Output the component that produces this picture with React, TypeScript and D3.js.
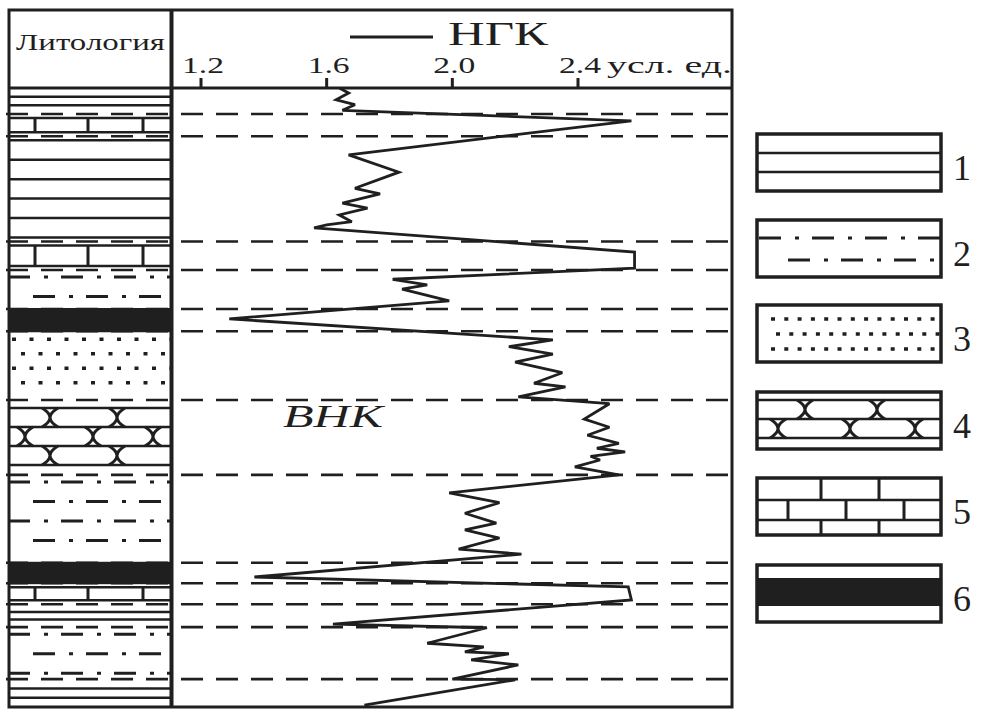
import React from "react";
import * as d3 from "d3";

// ---------- data ----------
const tickValues = [1.2, 1.6, 2.0, 2.4];
const tickLabels = ["1.2", "1.6", "2.0", "2.4"];
const unitLabel = "усл. ед.";
const curveName = "НГК";
const owcLabel = "ВНК";
const lithHeader = "Литология";

// relative depth (0 = top of section, 100 = bottom) and NGK reading (conventional units)
const ngkDepth = [0, 0.8, 1.9, 2.7, 3.6, 5.3, 10.8, 13.6, 16.2, 17.1, 18.6, 19.4, 20.5, 21.6, 22.1, 22.6, 26.5, 29.1, 30.9, 31.8, 32.5, 34.4, 37.3, 40.7, 41.8, 43.0, 44.3, 46.0, 47.7, 48.3, 49.9, 51.0, 53.5, 54.8, 56.1, 57.4, 58.2, 58.8, 59.5, 60.1, 61.2, 62.5, 65.4, 67.0, 68.7, 70.3, 71.4, 72.7, 74.5, 75.3, 79.0, 80.6, 82.7, 86.6, 87.2, 89.7, 90.3, 91.1, 91.4, 92.4, 93.2, 95.5, 95.6, 99.7];
const ngkValue = [1.64, 1.67, 1.63, 1.69, 1.65, 2.57, 1.67, 1.83, 1.69, 1.77, 1.65, 1.73, 1.64, 1.68, 1.60, 1.56, 2.58, 2.58, 1.81, 1.92, 1.84, 1.99, 1.29, 2.32, 2.18, 2.32, 2.20, 2.35, 2.26, 2.36, 2.21, 2.50, 2.42, 2.50, 2.43, 2.53, 2.46, 2.55, 2.44, 2.47, 2.39, 2.53, 1.99, 2.15, 2.04, 2.14, 2.04, 2.15, 2.02, 2.22, 1.37, 2.56, 2.57, 1.62, 2.11, 1.92, 2.10, 2.04, 2.18, 2.06, 2.21, 2.00, 2.20, 1.72];

// layer boundaries (dashed lines)
const boundaryDepth = [4.2, 7.8, 24.8, 29.4, 35.7, 39.3, 50.4, 62.5, 76.7, 80.0, 83.4, 87.1, 95.5];
const lithTop = [0, 4.2, 7.8, 24.8, 29.4, 35.7, 39.3, 50.4, 62.5, 76.7, 80.0, 83.4, 87.1, 95.5];
const lithBottom = [4.2, 7.8, 24.8, 29.4, 35.7, 39.3, 50.4, 62.5, 76.7, 80.0, 83.4, 87.1, 95.5, 100];
// 1 clay, 2 siltstone, 3 sandstone, 4 conglomerate-like, 5 limestone, 6 coal
const lithType = [1, 5, 1, 5, 2, 6, 3, 4, 2, 6, 5, 1, 2, 1];

const legendTypes = [1, 2, 3, 4, 5, 6];
const legendLabels = ["1", "2", "3", "4", "5", "6"];

// ---------- layout ----------
const W = 982;
const H = 709;
const INK = "#1f1f1f";
const FONT = "Liberation Serif, Times New Roman, serif";
const TXT: React.CSSProperties = { fontFamily: FONT };

const frame = { left: 9, top: 10, right: 732, bottom: 707, header: 88, divider: 171.5 };
const col = { x0: 10, x1: 170 };

const xScale = d3.scaleLinear().domain([1.2, 2.4]).range([201, 578]);
const yScale = d3.scaleLinear().domain([0, 100]).range([frame.header, frame.bottom]);

const legendBox = { x0: 757, x1: 941, h: 57 };
const legendTops = [134, 220, 305, 392, 478, 565];

function hline(key: string, xa: number, xb: number, y: number, sw = 2.5, dash?: string) {
  return (
    <line key={key} x1={xa} x2={xb} y1={y} y2={y} stroke={INK} strokeWidth={sw} strokeDasharray={dash} />
  );
}
function vline(key: string, x: number, ya: number, yb: number, sw = 3) {
  return <line key={key} x1={x} x2={x} y1={ya} y2={yb} stroke={INK} strokeWidth={sw} />;
}
function xMark(key: string, cx: number, ya: number, yb: number, w = 8) {
  const ym = (ya + yb) / 2;
  return (
    <path
      key={key}
      d={`M${cx - w},${ya} Q${cx + w},${ym} ${cx - w},${yb} M${cx + w},${ya} Q${cx - w},${ym} ${cx + w},${yb}`}
      fill="none"
      stroke={INK}
      strokeWidth={3}
    />
  );
}

function pattern(type: number, x0: number, x1: number, y0: number, y1: number, legend: boolean, k: string) {
  const els: React.ReactNode[] = [];
  const h = y1 - y0;
  if (type === 1) {
    if (legend || h < 35) {
      els.push(hline(k + "a", x0, x1, y0 + h / 3));
      els.push(hline(k + "b", x0, x1, y0 + (2 * h) / 3));
    } else {
      const a = y0 + 4, b = y1 - 4;
      const n = Math.max(1, Math.round((b - a) / 19));
      for (let i = 0; i <= n; i++) els.push(hline(k + i, x0, x1, a + ((b - a) * i) / n));
    }
  } else if (type === 2) {
    const dash = "22 14 4 13";
    const rows = legend ? [y0 + 18, y0 + 40] : d3.range(y0 + 7, y1 - 3 + 0.01, 19.5);
    rows.forEach((y, i) => {
      const start = legend ? (i % 2 === 0 ? x0 + 2 : x0 + 31) : i % 2 === 0 ? x0 - 2 : x0 + 23;
      els.push(hline(k + i, start, x1, y, 3, dash));
    });
  } else if (type === 3) {
    const rows = legend ? [y0 + 14, y0 + 29, y0 + 44] : d3.range(y0 + 8, y1 - 3 + 0.01, 14.5);
    rows.forEach((y, i) => {
      const start = legend ? (i % 2 === 0 ? x0 + 14 : x0 + 19) : i % 2 === 0 ? x0 + 2 : x0 + 11;
      els.push(hline(k + i, start, x1, y, 3.5, legend ? "4 9.3" : "4 13.5"));
    });
  } else if (type === 4) {
    const lines = legend ? [8, 27, 46] : [8, 27, 46, 65];
    lines.forEach((d, i) => els.push(hline(k + "l" + i, x0, x1, y0 + d)));
    const rowA = legend ? [48, 120] : [40, 107];
    const rowB = legend ? [21, 93, 158] : [15, 83, 143];
    for (let r = 0; r < lines.length - 1; r++) {
      const xs = r % 2 === 0 ? rowA : rowB;
      xs.forEach((dx, j) => els.push(xMark(k + "x" + r + "_" + j, x0 + dx, y0 + lines[r], y0 + lines[r + 1])));
    }
  } else if (type === 5) {
    if (legend) {
      const ys = [y0, y0 + 22, y0 + 42, y1];
      els.push(hline(k + "a", x0, x1, ys[1]));
      els.push(hline(k + "b", x0, x1, ys[2]));
      const even = [64, 122];
      const odd = [31, 89, 147];
      for (let r = 0; r < 3; r++) {
        (r % 2 === 0 ? even : odd).forEach((dx, j) => els.push(vline(k + "v" + r + j, x0 + dx, ys[r], ys[r + 1])));
      }
    } else {
      const a = y0 + 4, b = y1 - 4;
      els.push(hline(k + "a", x0, x1, a));
      els.push(hline(k + "b", x0, x1, b));
      [25, 78, 133].forEach((dx, j) => els.push(vline(k + "v" + j, x0 + dx, a, b)));
    }
  } else if (type === 6) {
    if (legend) {
      els.push(<rect key={k} x={x0} y={y0 + 13} width={x1 - x0} height={28} fill={INK} />);
    } else {
      els.push(<rect key={k} x={x0 - 1} y={y0 - 1} width={x1 - x0 + 2} height={h + 2} fill={INK} />);
    }
  }
  return els;
}

export default function App() {
  const line = d3
    .line<number>()
    .x((_, i) => xScale(ngkValue[i]))
    .y((_, i) => yScale(ngkDepth[i]));
  const curvePath = line(ngkDepth) || "";

  return (
    <svg
      width={W}
      height={H}
      viewBox={`0 0 ${W} ${H}`}
      style={{ position: "absolute", left: 0, top: 0, display: "block", background: "#fff" }}
    >
      <rect x={0} y={0} width={W} height={H} fill="#fff" />

      {/* lithology column patterns (except coal) */}
      <g>
        {lithType.map((t, i) =>
          t === 6 ? null : pattern(t, col.x0, col.x1, yScale(lithTop[i]), yScale(lithBottom[i]), false, "lith" + i)
        )}
      </g>

      {/* boundary dashed lines */}
      <g>
        {boundaryDepth.map((d, i) => hline("bd" + i, 6, 730, yScale(d), 2.6, "22 13"))}
      </g>

      {/* coal layers on top */}
      <g>
        {lithType.map((t, i) =>
          t === 6 ? pattern(t, col.x0, col.x1, yScale(lithTop[i]), yScale(lithBottom[i]), false, "coal" + i) : null
        )}
      </g>

      {/* NGK curve */}
      <path d={curvePath} fill="none" stroke={INK} strokeWidth={2.8} strokeLinejoin="miter" strokeMiterlimit={3} />

      {/* frame */}
      <rect
        x={frame.left}
        y={frame.top}
        width={frame.right - frame.left}
        height={frame.bottom - frame.top}
        fill="none"
        stroke={INK}
        strokeWidth={3}
      />
      <line x1={frame.left} x2={frame.right} y1={frame.header} y2={frame.header} stroke={INK} strokeWidth={3} />
      <line x1={frame.divider} x2={frame.divider} y1={frame.top} y2={frame.bottom} stroke={INK} strokeWidth={4} />

      {/* header texts */}
      <text x={16} y={50} fontSize={24} fill={INK} style={TXT} textLength={149} lengthAdjust="spacingAndGlyphs">
        {lithHeader}
      </text>
      <line x1={350} x2={433} y1={37} y2={37} stroke={INK} strokeWidth={3} />
      <text x={448} y={45} fontSize={34} fill={INK} style={TXT} textLength={100} lengthAdjust="spacingAndGlyphs">
        {curveName}
      </text>

      {/* ticks */}
      {tickValues.map((v, i) => (
        <g key={"t" + i}>
          <line x1={xScale(v)} x2={xScale(v)} y1={78} y2={frame.header} stroke={INK} strokeWidth={3} />
          <text
            x={xScale(v) + 2}
            y={73}
            fontSize={23}
            fill={INK}
            style={TXT}
            textAnchor="middle"
            textLength={42}
            lengthAdjust="spacingAndGlyphs"
          >
            {tickLabels[i]}
          </text>
        </g>
      ))}
      <text x={607} y={73} fontSize={23} fill={INK} style={TXT} textLength={125} lengthAdjust="spacingAndGlyphs">
        {unitLabel}
      </text>

      {/* OWC label */}
      <text
        x={283}
        y={427}
        fontSize={31}
        fontStyle="italic"
        fill={INK}
        style={TXT}
        textLength={100}
        lengthAdjust="spacingAndGlyphs"
      >
        {owcLabel}
      </text>

      {/* legend */}
      {legendTypes.map((t, i) => {
        const y0 = legendTops[i];
        const y1 = y0 + legendBox.h;
        return (
          <g key={"lg" + i}>
            {pattern(t, legendBox.x0, legendBox.x1, y0, y1, true, "lgp" + i)}
            <rect
              x={legendBox.x0}
              y={y0}
              width={legendBox.x1 - legendBox.x0}
              height={legendBox.h}
              fill="none"
              stroke={INK}
              strokeWidth={3.5}
            />
            <text x={953} y={(y0 + y1) / 2 + 17} fontSize={36} fill={INK} style={TXT}>
              {legendLabels[i]}
            </text>
          </g>
        );
      })}
    </svg>
  );
}
